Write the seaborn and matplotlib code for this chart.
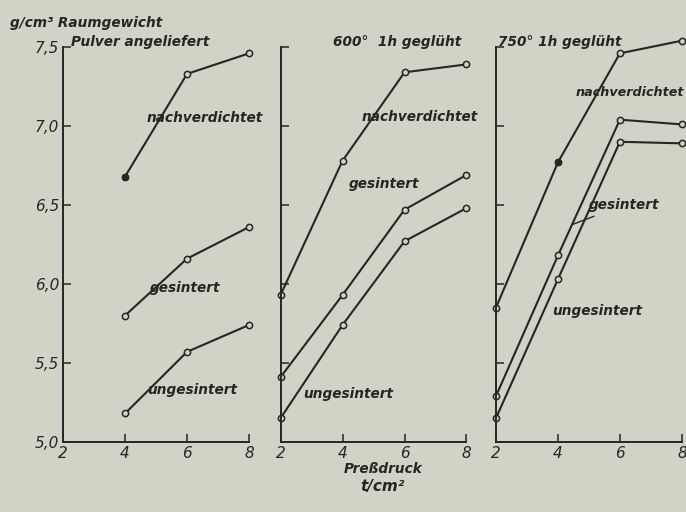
import numpy as np
import pandas as pd
import matplotlib.pyplot as plt
import seaborn as sns

# Preßdruck t/cm2
druck = [2, 4, 6, 8]
druck_pulver = [4, 6, 8]

# Raumgewicht g/cm3
pulver_nach = [6.68, 7.33, 7.46]
pulver_ges = [5.80, 6.16, 6.36]
pulver_unges = [5.18, 5.57, 5.74]

g600_nach = [5.93, 6.78, 7.34, 7.39]
g600_ges = [5.41, 5.93, 6.47, 6.69]
g600_unges = [5.15, 5.74, 6.27, 6.48]

g750_nach = [5.85, 6.77, 7.46, 7.54]
g750_ges = [5.29, 6.18, 7.04, 7.01]
g750_unges = [5.15, 6.03, 6.90, 6.89]

yticks = [5.0, 5.5, 6.0, 6.5, 7.0, 7.5]
ytick_labels = ["5,0", "5,5", "6,0", "6,5", "7,0", "7,5"]
xticks = [2, 4, 6, 8]

bg = "#d1d3c6"
ink = "#262622"

sns.set_theme(style="white")
plt.rcParams['font.family'] = ['DejaVu Sans']

fig = plt.figure(figsize=(6.86, 5.12), dpi=100, facecolor=bg)
lefts = [0.092, 0.409, 0.723]
axes = [fig.add_axes([l, 0.137, 0.271, 0.802]) for l in lefts]

txt = dict(color=ink, fontsize=9.8, fontstyle='italic', fontweight='bold',
           va='center', clip_on=False)


def draw(ax, x, y, filled=None):
    df = pd.DataFrame({'druck': x, 'dichte': y})
    sns.lineplot(data=df, x='druck', y='dichte', ax=ax, color=ink, lw=1.5,
                 marker='o', markersize=4.5, markerfacecolor=bg,
                 markeredgecolor=ink, markeredgewidth=1.1, clip_on=False)
    if filled is not None:
        sub = df[df['druck'] == filled]
        sns.scatterplot(data=sub, x='druck', y='dichte', ax=ax, color=ink,
                        s=22, edgecolor=ink, zorder=5, clip_on=False)


draw(axes[0], druck_pulver, pulver_nach, filled=4)
draw(axes[0], druck_pulver, pulver_ges)
draw(axes[0], druck_pulver, pulver_unges)
draw(axes[1], druck, g600_nach)
draw(axes[1], druck, g600_ges)
draw(axes[1], druck, g600_unges)
draw(axes[2], druck, g750_nach, filled=4)
draw(axes[2], druck, g750_ges)
draw(axes[2], druck, g750_unges)

for i, ax in enumerate(axes):
    ax.set_facecolor(bg)
    ax.set_xlim(2, 8)
    ax.set_ylim(5.0, 7.6)
    for s in ['top', 'right']:
        ax.spines[s].set_visible(False)
    for s in ['left', 'bottom']:
        ax.spines[s].set_color(ink)
        ax.spines[s].set_linewidth(1.4)
    ax.spines['left'].set_bounds(5.0, 7.5)
    ax.set_xticks(xticks)
    ax.set_xticklabels([str(t) for t in xticks], fontstyle='italic', fontsize=11, color=ink)
    ax.set_yticks(yticks)
    if i == 0:
        ax.set_yticklabels(ytick_labels, fontstyle='italic', fontsize=11, color=ink)
    else:
        ax.set_yticklabels([])
    ax.tick_params(direction='in', length=6, width=1.1, color=ink, left=True, bottom=True, pad=3)
    ax.set_xlabel("")
    ax.set_ylabel("")
    ax.grid(False)

# panel labels
axes[0].text(2.25, 7.53, "Pulver angeliefert", **txt)
axes[0].text(4.68, 7.05, "nachverdichtet", **txt)
axes[0].text(4.80, 5.975, "gesintert", **txt)
axes[0].text(4.72, 5.33, "ungesintert", **txt)

axes[1].text(3.7, 7.53, "600°  1h geglüht", **txt)
axes[1].text(4.62, 7.06, "nachverdichtet", **txt)
axes[1].text(4.2, 6.63, "gesintert", **txt)
axes[1].text(2.72, 5.30, "ungesintert", **txt)

axes[2].text(2.08, 7.53, "750° 1h geglüht", **txt)
axes[2].text(4.56, 7.21, "nachverdichtet", **{**txt, 'fontsize': 9.2})
axes[2].annotate("gesintert", xy=(4.45, 6.375), xytext=(4.98, 6.50), color=ink,
                 fontsize=9.8, fontstyle='italic', fontweight='bold', va='center',
                 arrowprops=dict(arrowstyle='-', color=ink, lw=1.0, shrinkA=2, shrinkB=0))
axes[2].text(3.82, 5.83, "ungesintert", **txt)

fig.text(0.015, 0.955, "g/cm³ Raumgewicht", color=ink, fontsize=9.8,
         fontstyle='italic', fontweight='bold', va='center')
fig.text(0.558, 0.084, "Preßdruck", color=ink, fontsize=9.8, fontstyle='italic',
         fontweight='bold', ha='center', va='center')
fig.text(0.558, 0.050, "t/cm²", color=ink, fontsize=11, fontstyle='italic',
         fontweight='bold', ha='center', va='center')

fig.savefig("out.png", dpi=100, facecolor=bg)
